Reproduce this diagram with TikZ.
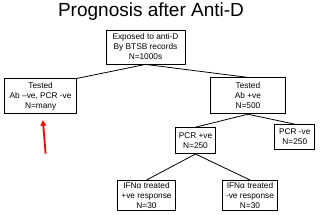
\documentclass[tikz,border=0pt]{standalone}
\usepackage{fontspec}
\setmainfont{Liberation Sans}
\usetikzlibrary{arrows.meta, positioning}

\begin{document}
\begin{tikzpicture}[
    x=1pt, y=-1pt,
    box/.style={draw, thick, rectangle, align=center, inner sep=0pt,
      font=\fontsize{8.3}{10}\selectfont},
    link/.style={thick},
    pointer/.style={-{Triangle[length=5.5pt, width=5.5pt]}, line width=1.8pt, red}
  ]
  \useasboundingbox (0,0) rectangle (320,214);
  \node[box, minimum width=79pt, minimum height=34pt] (expo) at (145.5,47)
    {Exposed to anti-D\\By BTSB records\\N=1000s};
  \node[inner sep=0pt, font=\fontsize{19}{22}\selectfont, above=9pt of expo, xshift=5.5pt] (title)
    {Prognosis after Anti-D};
  \node[box, minimum width=72pt, minimum height=35pt, below left=14pt and 68.5pt of expo.south] (neg)
    {Tested\\Ab --ve, PCR -ve\\N=many};
  \node[box, minimum width=75pt, minimum height=36pt, below right=13pt and 64.5pt of expo.south] (pos)
    {Tested\\Ab +ve\\N=500};
  \node[box, minimum width=40pt, minimum height=26pt, below left=13pt and 32pt of pos.south] (pcrpos)
    {PCR +ve\\N=250};
  \node[box, minimum width=40pt, minimum height=25pt, below right=10pt and 26.5pt of pos.south] (pcrneg)
    {PCR -ve\\N=250};
  \node[box, minimum width=58pt, minimum height=30pt, below=26pt of pcrpos.south, xshift=-49pt] (resp)
    {IFNα treated\\+ve response\\N=30};
  \node[box, minimum width=55pt, minimum height=30pt, below=26pt of pcrpos.south, xshift=54.5pt] (noresp)
    {IFNα treated\\-ve response\\N=30};

  \draw[link] (expo.south) -- (neg.north east);
  \draw[link] (expo.south) -- (pos.north);
  \draw[link] (pos.south) -- (pcrpos.north);
  \draw[link] (pos.south) -- (pcrneg.north);
  \draw[link] (pcrpos.south) -- (resp.north);
  \draw[link] (pcrpos.south) -- (noresp.north);

  % red pointer below the untreated group
  \coordinate[below=6pt of neg.south, xshift=2.3pt] (tip);
  \coordinate[below=33.5pt of tip, xshift=2.7pt] (tail);
  \draw[pointer] (tail) -- (tip);
\end{tikzpicture}
\end{document}
